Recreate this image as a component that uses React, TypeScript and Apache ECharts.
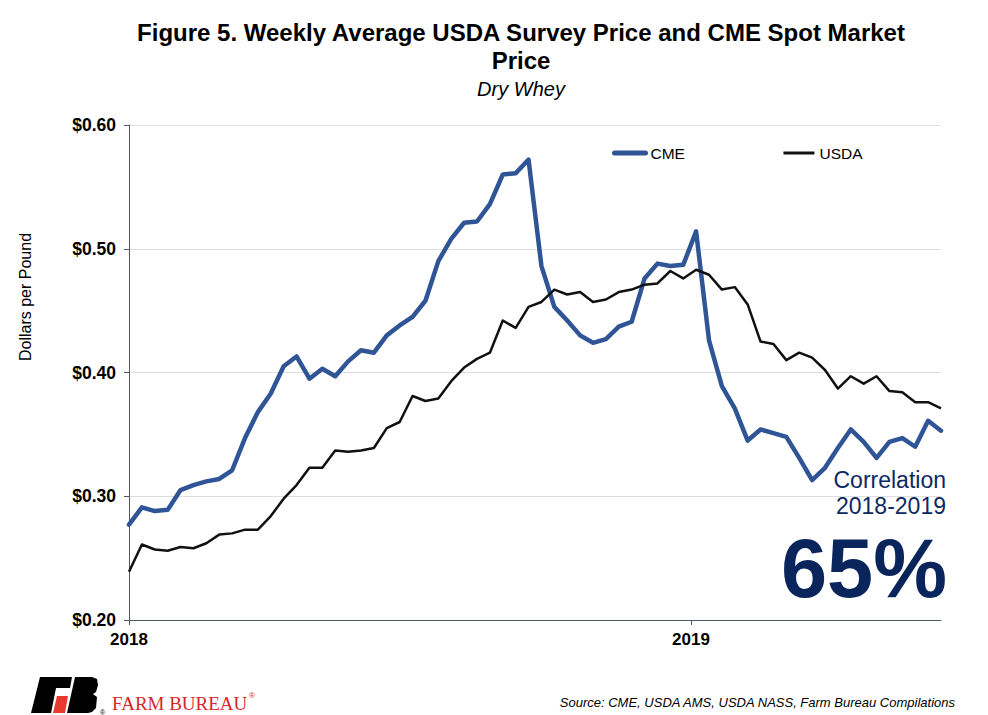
import React, { useEffect, useRef } from "react";
import * as echarts from "echarts";

// Weekly prices, $/lb (Jan 2018 onward)
const cmePrice = [
  0.277, 0.291, 0.288, 0.289, 0.305, 0.309, 0.312, 0.314, 0.321, 0.347,
  0.368, 0.383, 0.405, 0.413, 0.395, 0.403, 0.397, 0.409, 0.418, 0.416,
  0.430, 0.438, 0.445, 0.458, 0.490, 0.508, 0.521, 0.522, 0.536, 0.560,
  0.561, 0.572, 0.486, 0.453, 0.442, 0.430, 0.424, 0.427, 0.437, 0.441,
  0.476, 0.488, 0.486, 0.487, 0.514, 0.426, 0.389, 0.371, 0.345, 0.354,
  0.351, 0.348, 0.331, 0.313, 0.323, 0.339, 0.354, 0.344, 0.331, 0.344,
  0.347, 0.340, 0.361, 0.353,
];
const usdaPrice = [
  0.239, 0.261, 0.257, 0.256, 0.259, 0.258, 0.262, 0.269, 0.270, 0.273,
  0.273, 0.284, 0.298, 0.309, 0.323, 0.323, 0.337, 0.336, 0.337, 0.339,
  0.355, 0.360, 0.381, 0.377, 0.379, 0.393, 0.404, 0.411, 0.416, 0.442,
  0.436, 0.453, 0.457, 0.467, 0.463, 0.465, 0.457, 0.459, 0.465, 0.467,
  0.471, 0.472, 0.482, 0.476, 0.483, 0.479, 0.467, 0.469, 0.455, 0.425,
  0.423, 0.410, 0.416, 0.412, 0.402, 0.387, 0.397, 0.391, 0.397, 0.385,
  0.384, 0.376, 0.376, 0.371,
];
const yearLabels = ["2018", "2019"];
const yearStartWeek = [0, 43.6];
const seriesNames = ["CME", "USDA"];
const yMin = 0.2;
const yMax = 0.6;
const yStep = 0.1;

const NARROW = '"Liberation Sans Narrow", "Liberation Sans", Arial, sans-serif';
const SANS = '"Liberation Sans", Arial, sans-serif';
const NAVY = "#0c2a62";
const CME_COLOR = "#2f5597";
const USDA_COLOR = "#111111";

export default function App() {
  const ref = useRef<HTMLDivElement>(null);
  useEffect(() => {
    document.body.style.margin = "0";
    if (!ref.current) return;
    const chart = echarts.init(ref.current, undefined, { renderer: "svg" });
    const toPairs = (arr: number[]) => arr.map((v, i) => [i, v]);
    chart.setOption({
      animation: false,
      backgroundColor: "#ffffff",
      title: {
        text: "Figure 5. Weekly Average USDA Survey Price and CME Spot Market\nPrice",
        subtext: "Dry Whey",
        left: 516,
        top: 13,
        textAlign: "center",
        itemGap: 5,
        textStyle: {
          fontFamily: NARROW,
          fontWeight: "bold",
          fontSize: 24,
          lineHeight: 28,
          color: "#000",
        },
        subtextStyle: {
          fontFamily: NARROW,
          fontStyle: "italic",
          fontSize: 20,
          color: "#000",
        },
      },
      legend: {
        left: 607,
        top: 140,
        itemWidth: 31,
        itemHeight: 14,
        itemGap: 97,
        data: [
          { name: seriesNames[0], lineStyle: { width: 5, color: CME_COLOR, cap: "round" } },
          { name: seriesNames[1], lineStyle: { width: 3, color: USDA_COLOR } },
        ],
        itemStyle: { opacity: 0 },
        textStyle: { fontFamily: NARROW, fontSize: 15.5, color: "#000" },
      },
      grid: { left: 129, right: 47, top: 125, bottom: 95 },
      xAxis: {
        type: "value",
        min: 0,
        max: cmePrice.length - 1,
        axisLine: { lineStyle: { color: "#4e5866", width: 1 } },
        axisTick: {
          customValues: yearStartWeek,
          length: 5,
          lineStyle: { color: "#4e5866" },
        },
        axisLabel: {
          customValues: yearStartWeek,
          margin: 11,
          fontFamily: SANS,
          fontWeight: "bold",
          fontSize: 17,
          color: "#000",
          formatter: (v: number) => {
            const i = yearStartWeek.findIndex((p) => Math.abs(p - v) < 1e-6);
            return i >= 0 ? yearLabels[i] : "";
          },
        },
        splitLine: { show: false },
      },
      yAxis: {
        type: "value",
        min: yMin,
        max: yMax,
        interval: yStep,
        axisLine: { show: true, lineStyle: { color: "#4e5866", width: 1 } },
        axisTick: { show: true, length: 5, lineStyle: { color: "#4e5866" } },
        axisLabel: {
          margin: 13,
          fontFamily: SANS,
          fontWeight: "bold",
          fontSize: 17.5,
          color: "#000",
          formatter: (v: number) => "$" + v.toFixed(2),
        },
        splitLine: { lineStyle: { color: "#dedede", width: 1 } },
      },
      series: [
        {
          name: seriesNames[0],
          type: "line",
          data: toPairs(cmePrice),
          symbol: "none",
          color: CME_COLOR,
          lineStyle: { color: CME_COLOR, width: 4.5, join: "round", cap: "round" },
          z: 3,
        },
        {
          name: seriesNames[1],
          type: "line",
          data: toPairs(usdaPrice),
          symbol: "none",
          color: USDA_COLOR,
          lineStyle: { color: USDA_COLOR, width: 2.5, join: "round" },
          z: 4,
        },
      ],
      graphic: [
        {
          type: "text",
          x: 25,
          y: 297,
          rotation: Math.PI / 2,
          style: {
            text: "Dollars per Pound",
            fontFamily: SANS,
            fontSize: 16,
            fill: "#000",
            align: "center",
            verticalAlign: "middle",
          },
        },
        {
          type: "text",
          x: 946,
          y: 480,
          style: {
            text: "Correlation",
            fontFamily: SANS,
            fontSize: 23,
            fill: NAVY,
            align: "right",
            verticalAlign: "middle",
          },
        },
        {
          type: "text",
          x: 946,
          y: 506,
          style: {
            text: "2018-2019",
            fontFamily: SANS,
            fontSize: 23,
            fill: NAVY,
            align: "right",
            verticalAlign: "middle",
          },
        },
        {
          type: "text",
          x: 947,
          y: 568,
          style: {
            text: "65%",
            fontFamily: SANS,
            fontWeight: "bold",
            fontSize: 83,
            fill: "#0a245c",
            align: "right",
            verticalAlign: "middle",
          },
        },
        {
          type: "text",
          x: 955,
          y: 702,
          style: {
            text: "Source: CME, USDA AMS, USDA NASS, Farm Bureau Compilations",
            fontFamily: NARROW,
            fontStyle: "italic",
            fontSize: 13,
            fill: "#000",
            align: "right",
            verticalAlign: "middle",
          },
        },
        {
          type: "polygon",
          shape: { points: [[40, 677], [72, 677], [70, 688], [56, 688], [51, 713], [31, 713]] },
          style: { fill: "#000" },
        },
        {
          type: "polygon",
          shape: { points: [[57, 696], [68, 696], [65, 713], [53, 713]] },
          style: { fill: "#e8392f" },
        },
        {
          type: "polygon",
          shape: {
            points: [
              [75, 677], [92, 677], [97, 679], [98, 685], [96, 692], [93, 694],
              [97, 697], [96, 708], [92, 712], [88, 713], [67, 713],
            ],
          },
          style: { fill: "#000" },
        },
        {
          type: "text",
          x: 100,
          y: 709,
          style: { text: "®", fontFamily: SANS, fontSize: 7, fill: "#000" },
        },
        {
          type: "text",
          x: 112,
          y: 703,
          style: {
            text: "FARM BUREAU",
            fontFamily: '"Liberation Serif", "Times New Roman", serif',
            fontSize: 19,
            fill: "#d9262b",
            align: "left",
            verticalAlign: "middle",
          },
        },
        {
          type: "text",
          x: 249,
          y: 691,
          style: { text: "®", fontFamily: SANS, fontSize: 8, fill: "#d9262b" },
        },
      ],
    });
    return () => chart.dispose();
  }, []);
  return <div ref={ref} style={{ width: 988, height: 715 }} />;
}
